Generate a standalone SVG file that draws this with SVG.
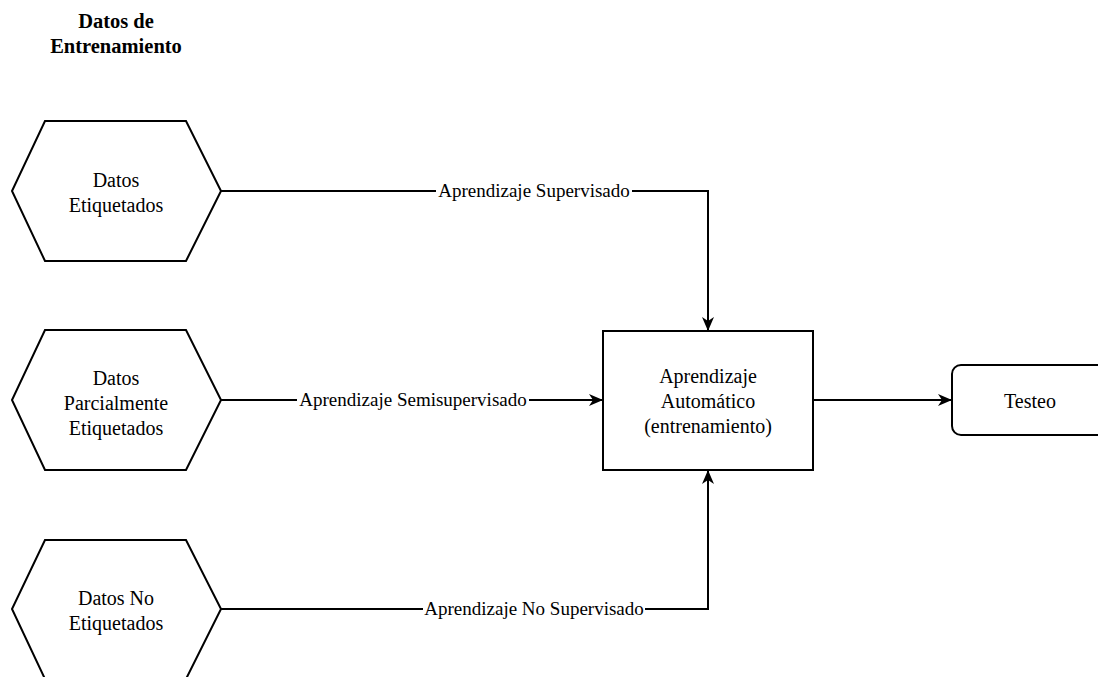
<svg xmlns="http://www.w3.org/2000/svg" width="1098" height="677" viewBox="0 0 1098 677">
<style>
.shape{fill:#fff;stroke:#000;stroke-width:2}
.t{font-family:"Liberation Serif","Times New Roman",serif;font-size:20px;fill:#000;text-anchor:middle}
.title{font-family:"Liberation Serif","Times New Roman",serif;font-size:20.5px;font-weight:bold;fill:#000;text-anchor:middle}
.lbl{font-family:"Liberation Serif","Times New Roman",serif;font-size:19px;fill:#000;text-anchor:middle}
.edge{fill:none;stroke:#000;stroke-width:2}
.lblbg{fill:#fff}
</style>
<defs>
<marker id="arr" viewBox="0 0 14 12" refX="13" refY="6" markerWidth="14" markerHeight="12" markerUnits="userSpaceOnUse" orient="auto">
<path d="M0,0 L14,6 L0,12 L4,6 Z" fill="#000"/>
</marker>
</defs>
<rect width="1098" height="677" fill="#fff"/>
<g id="title">
<text class="title" x="116" y="28">Datos de</text>
<text class="title" x="116" y="53">Entrenamiento</text>
</g>
<g id="connectors">
<path class="edge" d="M221,191 H708 V330" marker-end="url(#arr)"/>
<path class="edge" d="M221,400 H602" marker-end="url(#arr)"/>
<path class="edge" d="M221,609 H708 V471" marker-end="url(#arr)"/>
<path class="edge" d="M813,400 H951" marker-end="url(#arr)"/>
<rect class="lblbg" x="436" y="180" width="196" height="22"/>
<text class="lbl" x="534" y="197">Aprendizaje Supervisado</text>
<rect class="lblbg" x="297" y="389" width="232" height="22"/>
<text class="lbl" x="413" y="406">Aprendizaje Semisupervisado</text>
<rect class="lblbg" x="423" y="598" width="222" height="22"/>
<text class="lbl" x="534" y="615">Aprendizaje No Supervisado</text>
</g>
<g id="hex1">
<polygon class="shape" points="45,121 186,121 221,191 186,261 45,261 12,191"/>
<text class="t" x="116" y="187">Datos</text>
<text class="t" x="116" y="212">Etiquetados</text>
</g>
<g id="hex2">
<polygon class="shape" points="45,330 186,330 221,400 186,470 45,470 12,400"/>
<text class="t" x="116" y="385">Datos</text>
<text class="t" x="116" y="410">Parcialmente</text>
<text class="t" x="116" y="435">Etiquetados</text>
</g>
<g id="hex3">
<polygon class="shape" points="45,540 186,540 221,609 186,679 45,679 12,609"/>
<text class="t" x="116" y="605">Datos No</text>
<text class="t" x="116" y="630">Etiquetados</text>
</g>
<g id="ml">
<rect class="shape" x="603" y="331" width="210" height="139"/>
<text class="t" x="708" y="383">Aprendizaje</text>
<text class="t" x="708" y="408">Automático</text>
<text class="t" x="708" y="433">(entrenamiento)</text>
</g>
<g id="testeo">
<rect class="shape" x="952" y="365" width="160" height="70" rx="9" ry="9"/>
<text class="t" x="1030" y="408">Testeo</text>
</g>
</svg>
